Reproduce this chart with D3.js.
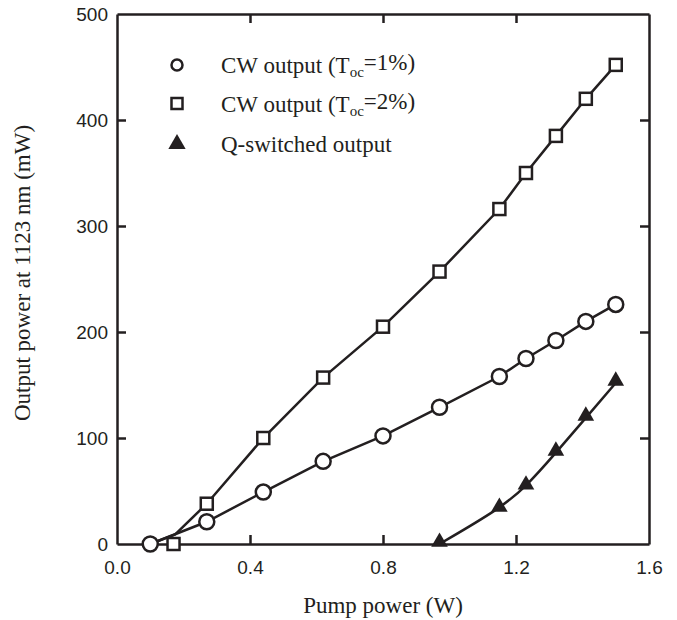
<!DOCTYPE html>
<html>
<head>
<meta charset="utf-8">
<script src="https://cdn.jsdelivr.net/npm/d3@7"></script>
<style>
  body { margin: 0; background: #fff; }
  svg { display: block; }
</style>
</head>
<body>
<div id="chart"></div>
<script>
// data
var pump1 = [0.10, 0.27, 0.44, 0.62, 0.80, 0.97, 1.15, 1.23, 1.32, 1.41, 1.50];
var cw1   = [0, 21, 49, 78, 102, 129, 158, 175, 192, 210, 226];

var pump2 = [0.17, 0.27, 0.44, 0.62, 0.80, 0.97, 1.15, 1.23, 1.32, 1.41, 1.50];
var cw2   = [0, 38, 100, 157, 205, 257, 316, 350, 385, 420, 452];

// line drawn for 2% output joins the 1% line near threshold
var line2X = [0.10, 0.175, 0.27, 0.44, 0.62, 0.80, 0.97, 1.15, 1.23, 1.32, 1.41, 1.50];
var line2Y = [0, 9, 38, 100, 157, 205, 257, 316, 350, 385, 420, 452];

var pumpQ = [0.97, 1.15, 1.23, 1.32, 1.41, 1.50];
var qsw   = [0, 33, 54, 86, 119, 152];

var xTicks = [0.0, 0.4, 0.8, 1.2, 1.6];
var yTicks = [0, 100, 200, 300, 400, 500];

var width = 677, height = 620;
var margin = {top: 14, right: 28, bottom: 76, left: 117};
var w = width - margin.left - margin.right,
    h = height - margin.top - margin.bottom;

var svg = d3.select("#chart").append("svg")
    .attr("width", width)
    .attr("height", height);

var g = svg.append("g")
    .attr("transform", `translate(${margin.left}, ${margin.top})`);

var x = d3.scaleLinear().domain([0, 1.6]).range([0, w]);
var y = d3.scaleLinear().domain([0, 500]).range([h, 0]);

var tickLen = 9;
var axisColor = "#231f20";

// axes, ticks pointing inward on all four sides
var axBottom = g.append("g")
    .attr("transform", `translate(0, ${h})`)
    .call(d3.axisBottom(x).tickValues(xTicks).tickFormat(d3.format(".1f"))
        .tickSizeInner(-tickLen).tickSizeOuter(0).tickPadding(17));
var axLeft = g.append("g")
    .call(d3.axisLeft(y).tickValues(yTicks).tickFormat(d3.format("d"))
        .tickSizeInner(-tickLen).tickSizeOuter(0).tickPadding(9));
var axTop = g.append("g")
    .call(d3.axisTop(x).tickValues(xTicks).tickFormat("")
        .tickSizeInner(-tickLen).tickSizeOuter(0));
var axRight = g.append("g")
    .attr("transform", `translate(${w}, 0)`)
    .call(d3.axisRight(y).tickValues(yTicks).tickFormat("")
        .tickSizeInner(-tickLen).tickSizeOuter(0));

[axBottom, axLeft, axTop, axRight].forEach(function(a) {
    a.select(".domain").attr("stroke", axisColor).attr("stroke-width", 2.5);
    a.selectAll(".tick line").attr("stroke", axisColor).attr("stroke-width", 2.5);
    a.selectAll(".tick text")
        .attr("fill", axisColor)
        .style("font-family", "'Liberation Sans', Arial, sans-serif")
        .style("font-size", "19px");
});
// hide the tick marks at the corners
axBottom.selectAll(".tick line").filter(d => d === 0 || d === 1.6).remove();
axTop.selectAll(".tick line").filter(d => d === 0 || d === 1.6).remove();
axLeft.selectAll(".tick line").filter(d => d === 0 || d === 500).remove();
axRight.selectAll(".tick line").filter(d => d === 0 || d === 500).remove();

// lines
var line = d3.line().x(d => x(d[0])).y(d => y(d[1]));

g.append("path")
    .datum(d3.zip(pump1, cw1))
    .attr("fill", "none").attr("stroke", axisColor).attr("stroke-width", 2.5)
    .attr("d", line);

g.append("path")
    .datum(d3.zip(line2X, line2Y))
    .attr("fill", "none").attr("stroke", axisColor).attr("stroke-width", 2.5)
    .attr("d", line);

// smooth fitted curve through the Q-switched points
g.append("path")
    .datum(d3.zip(pumpQ, qsw))
    .attr("fill", "none").attr("stroke", axisColor).attr("stroke-width", 2.5)
    .attr("d", d3.line().x(d => x(d[0])).y(d => y(d[1])).curve(d3.curveBasis));

// markers
g.selectAll(".c1").data(d3.zip(pump1, cw1)).enter()
    .append("circle")
    .attr("cx", d => x(d[0])).attr("cy", d => y(d[1]))
    .attr("r", 7.5)
    .attr("fill", "#fff").attr("stroke", axisColor).attr("stroke-width", 2.5);

var sq = 12;
g.selectAll(".c2").data(d3.zip(pump2, cw2)).enter()
    .append("rect")
    .attr("x", d => x(d[0]) - sq / 2).attr("y", d => y(d[1]) - sq / 2)
    .attr("width", sq).attr("height", sq)
    .attr("fill", "#fff").attr("stroke", axisColor).attr("stroke-width", 2.5);

var tri = d3.symbol().type(d3.symbolTriangle).size(120);
g.selectAll(".q").data(d3.zip(pumpQ, qsw)).enter()
    .append("path")
    .attr("transform", d => `translate(${x(d[0])}, ${y(d[1]) - 2})`)
    .attr("d", tri)
    .attr("fill", axisColor);

// legend
var legend = g.append("g").attr("transform", "translate(60, 0)");
var serif = "'Liberation Serif', 'Times New Roman', serif";

legend.append("circle")
    .attr("cx", 0).attr("cy", 51).attr("r", 5.5)
    .attr("fill", "#fff").attr("stroke", axisColor).attr("stroke-width", 2.5);
legend.append("rect")
    .attr("x", -5.5).attr("y", 84).attr("width", 11).attr("height", 11)
    .attr("fill", "#fff").attr("stroke", axisColor).attr("stroke-width", 2.5);
legend.append("path")
    .attr("transform", "translate(0, 130)")
    .attr("d", d3.symbol().type(d3.symbolTriangle).size(130))
    .attr("fill", axisColor);

var labels = [
    {y: 51, pre: "CW output (T", sub: "oc", post: "=1%)"},
    {y: 90, pre: "CW output (T", sub: "oc", post: "=2%)"},
    {y: 130, pre: "Q-switched output", sub: "", post: ""}
];
labels.forEach(function(l) {
    var t = legend.append("text")
        .attr("x", 44).attr("y", l.y).attr("dy", "0.33em")
        .attr("fill", axisColor)
        .style("font-family", serif).style("font-size", "23px");
    t.append("tspan").text(l.pre);
    if (l.sub) {
        t.append("tspan").attr("dy", "0.3em").style("font-size", "15px").text(l.sub);
        t.append("tspan").attr("dy", "-0.3em").text(l.post);
    }
});

// axis titles
svg.append("text")
    .attr("x", margin.left + w / 2).attr("y", 613)
    .attr("text-anchor", "middle")
    .attr("fill", axisColor)
    .style("font-family", serif).style("font-size", "23px")
    .text("Pump power (W)");

svg.append("text")
    .attr("transform", `translate(30, ${margin.top + h / 2 - 6}) rotate(-90)`)
    .attr("text-anchor", "middle")
    .attr("fill", axisColor)
    .style("font-family", serif).style("font-size", "23px")
    .text("Output power at 1123 nm (mW)");
</script>
</body>
</html>
